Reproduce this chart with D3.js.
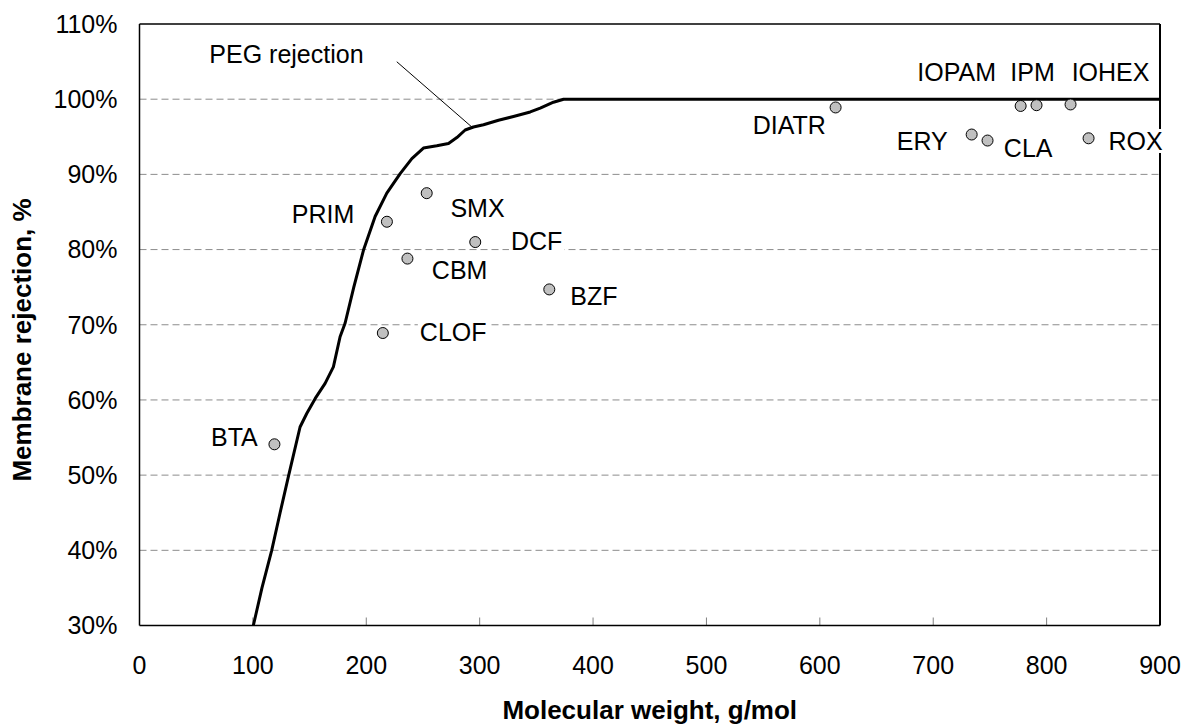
<!DOCTYPE html>
<html>
<head>
<meta charset="utf-8">
<script src="https://cdn.jsdelivr.net/npm/d3@7"></script>
<style>
  body { margin: 0; background: #fff; }
  svg { display: block; }
  text { font-family: "Liberation Sans", Arial, Helvetica, sans-serif; fill: #000; }
</style>
</head>
<body>
<svg id="chart" width="1189" height="724"></svg>
<script>
// PEG rejection curve (molecular weight, g/mol vs. rejection fraction)
const pegMW = [100.4, 108, 116.6, 124, 131.3, 141.6, 147.5, 155, 163.7, 171, 176.9, 181.3, 189,
  197.5, 207.8, 218.1, 229.9, 240.2, 250.4, 262.2, 272.5, 279.9, 287.2, 294.5, 303.4, 316.6,
  329.8, 344.6, 353.4, 365.1, 374, 900];
const pegRejection = [0.300, 0.350, 0.400, 0.450, 0.498, 0.564, 0.582, 0.602, 0.622, 0.644, 0.684, 0.702, 0.750,
  0.799, 0.844, 0.875, 0.901, 0.921, 0.935, 0.938, 0.941, 0.949, 0.959, 0.963, 0.966, 0.972,
  0.977, 0.983, 0.988, 0.996, 1.000, 1.000];

// Trace organic compounds
const compounds = ["BTA", "CLOF", "PRIM", "CBM", "SMX", "DCF", "BZF", "DIATR", "ERY", "CLA", "IOPAM", "IPM", "IOHEX", "ROX"];
const compoundMW = [119, 214.6, 218.2, 236.3, 253.3, 296.1, 361.4, 613.9, 733.9, 747.9, 777.1, 791.1, 821.1, 837];
const compoundRejection = [0.541, 0.689, 0.837, 0.788, 0.875, 0.810, 0.747, 0.989, 0.953, 0.945, 0.991, 0.992, 0.993, 0.948];

// Axis ticks
const xTicks = [0, 100, 200, 300, 400, 500, 600, 700, 800, 900];
const yTicks = [0.3, 0.4, 0.5, 0.6, 0.7, 0.8, 0.9, 1.0, 1.1];

const svg = d3.select("#chart");
const plot = { left: 139.5, right: 1160, top: 24, bottom: 625.5 };

const x = d3.scaleLinear().domain([0, 900]).range([plot.left, plot.right]);
const y = d3.scaleLinear().domain([0.3, 1.1]).range([plot.bottom, plot.top]);
const pct = d3.format(".0%");

// Horizontal dashed gridlines
svg.append("g")
  .selectAll("line")
  .data(yTicks.filter(v => v > 0.3 + 1e-9 && v < 1.1 - 1e-9))
  .join("line")
  .attr("x1", plot.left).attr("x2", plot.right)
  .attr("y1", d => y(d)).attr("y2", d => y(d))
  .attr("stroke", "#8c8c8c").attr("stroke-width", 1)
  .attr("stroke-dasharray", "7,4");

// Inward x tick marks
svg.append("g")
  .selectAll("line")
  .data(xTicks.slice(1, -1))
  .join("line")
  .attr("x1", d => x(d)).attr("x2", d => x(d))
  .attr("y1", plot.bottom).attr("y2", plot.bottom - 8)
  .attr("stroke", "#808080").attr("stroke-width", 1);

// PEG rejection curve
const line = d3.line().x(d => x(d[0])).y(d => y(d[1]));
svg.append("path")
  .datum(pegMW.map((m, i) => [m, pegRejection[i]]))
  .attr("d", line)
  .attr("fill", "none")
  .attr("stroke", "#000")
  .attr("stroke-width", 3)
  .attr("stroke-linejoin", "round");

// Plot frame
svg.append("line").attr("x1", plot.left).attr("x2", plot.right).attr("y1", plot.top).attr("y2", plot.top)
  .attr("stroke", "#000").attr("stroke-width", 1.3);
svg.append("line").attr("x1", plot.right).attr("x2", plot.right).attr("y1", plot.top).attr("y2", plot.bottom)
  .attr("stroke", "#000").attr("stroke-width", 2);
svg.append("line").attr("x1", plot.left).attr("x2", plot.right).attr("y1", plot.bottom).attr("y2", plot.bottom)
  .attr("stroke", "#000").attr("stroke-width", 1.5);
svg.append("line").attr("x1", plot.left).attr("x2", plot.left).attr("y1", plot.top).attr("y2", plot.bottom)
  .attr("stroke", "#000").attr("stroke-width", 1.5);

// Tick labels
svg.append("g")
  .selectAll("text")
  .data(yTicks)
  .join("text")
  .attr("x", plot.left - 22)
  .attr("y", d => y(d))
  .attr("dy", "0.35em")
  .attr("text-anchor", "end")
  .attr("font-size", 25)
  .text(d => pct(d));

svg.append("g")
  .selectAll("text")
  .data(xTicks)
  .join("text")
  .attr("x", d => x(d))
  .attr("y", 674)
  .attr("text-anchor", "middle")
  .attr("font-size", 25)
  .text(d => d);

// Axis titles
svg.append("text")
  .attr("x", (plot.left + plot.right) / 2)
  .attr("y", 719)
  .attr("text-anchor", "middle")
  .attr("font-size", 26)
  .attr("font-weight", "bold")
  .text("Molecular weight, g/mol");

svg.append("text")
  .attr("transform", "translate(31,340) rotate(-90)")
  .attr("text-anchor", "middle")
  .attr("font-size", 26)
  .attr("font-weight", "bold")
  .text("Membrane rejection, %");

// Label placement for each compound: anchor, dx, dy (pixels from the marker)
const labelPlacement = {
  BTA: ["end", -16.7, 1.4],
  CLOF: ["start", 37, 8.4],
  PRIM: ["end", -32.7, 1.6],
  CBM: ["start", 24.4, 20.6],
  SMX: ["start", 23.7, 23.4],
  DCF: ["start", 35.7, 8],
  BZF: ["start", 21, 16],
  DIATR: ["end", -9.7, 26.3],
  ERY: ["end", -24, 15.7],
  CLA: ["start", 16.3, 16],
  IOPAM: ["middle", -64, -25.3],
  IPM: ["middle", -4, -24.6],
  IOHEX: ["middle", 40, -23.9],
  ROX: ["start", 20, 11.7]
};

const pts = compounds.map((c, i) => ({ name: c, mw: compoundMW[i], r: compoundRejection[i] }));

// Data labels with white boxes
const labels = svg.append("g");
pts.forEach(p => {
  const [anchor, dx, dy] = labelPlacement[p.name];
  const g = labels.append("g");
  const t = g.append("text")
    .attr("x", x(p.mw) + dx)
    .attr("y", y(p.r) + dy)
    .attr("text-anchor", anchor)
    .attr("font-size", 25)
    .text(p.name);
  const b = t.node().getBBox();
  g.insert("rect", "text")
    .attr("x", b.x - 2).attr("y", b.y + 2)
    .attr("width", b.width + 4).attr("height", b.height - 4)
    .attr("fill", "#fff");
});

// Compound markers
svg.append("g")
  .selectAll("circle")
  .data(pts)
  .join("circle")
  .attr("cx", d => x(d.mw))
  .attr("cy", d => y(d.r))
  .attr("r", 5.5)
  .attr("fill", "#c0c0c0")
  .attr("stroke", "#000")
  .attr("stroke-width", 1);

// Curve annotation with leader line
svg.append("line")
  .attr("x1", x(226.9)).attr("y1", y(1.0498))
  .attr("x2", x(293.1)).attr("y2", y(0.963))
  .attr("stroke", "#000").attr("stroke-width", 1);
svg.append("text")
  .attr("x", x(61.6))
  .attr("y", y(1.0477))
  .attr("font-size", 25)
  .text("PEG rejection");
</script>
</body>
</html>
